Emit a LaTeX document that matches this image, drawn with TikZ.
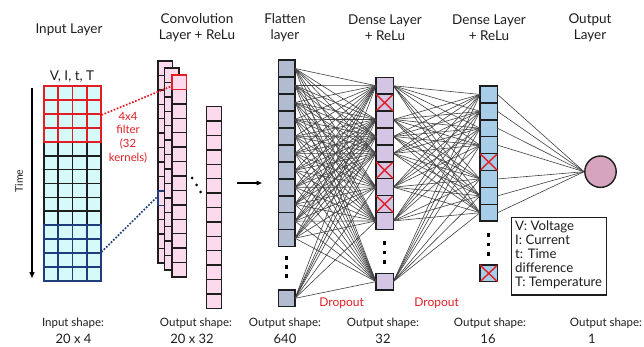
\documentclass[tikz,border=0pt]{standalone}
\usepackage{fontspec}
\setmainfont{Lato}
\usetikzlibrary{arrows.meta,calc}

\definecolor{incyan}{HTML}{D6F9FA}
\definecolor{convpink}{HTML}{FBDAEE}
\definecolor{flatblue}{HTML}{B1BCD1}
\definecolor{denselav}{HTML}{D3C5E3}
\definecolor{denseblue}{HTML}{A7CDE9}
\definecolor{outpink}{HTML}{D6A4BC}
\definecolor{kred}{HTML}{E01E24}
\definecolor{kblue}{HTML}{1F3D7A}
\definecolor{cellline}{HTML}{1E1E1E}
\definecolor{wire}{HTML}{404040}
\definecolor{txt}{HTML}{1E1E1E}

\begin{document}
\begin{tikzpicture}[x=1pt,y=-1pt,
  cell/.style={draw=cellline, line width=1.5pt, inner sep=0pt, outer sep=0pt, anchor=north west},
  incell/.style={cell, fill=incyan, line width=1.8pt, minimum width=14.25pt, minimum height=13.93pt},
  convcell/.style={cell, fill=convpink, minimum width=14.6pt, minimum height=14.43pt},
  flatcell/.style={cell, fill=flatblue, minimum width=16.7pt, minimum height=16.97pt},
  d1cell/.style={cell, fill=denselav, minimum width=17.3pt, minimum height=16.9pt},
  d2cell/.style={cell, fill=denseblue, minimum width=17.5pt, minimum height=16.9pt},
  vdot/.style={fill=black, inner sep=0pt, minimum size=3.2pt, shape=rectangle},
  cdot/.style={fill=black, inner sep=0pt, minimum size=3pt, shape=circle},
  wire/.style={draw=wire, line width=0.6pt},
  xmark/.style={draw=kred, line width=1.4pt, shorten <=0.9pt, shorten >=0.9pt},
  title/.style={text=txt, align=center, font=\fontsize{13.5}{16}\selectfont},
  shapelbl/.style={text=txt, font=\fontsize{11.5}{13}\selectfont},
  shapenum/.style={text=txt, font=\fontsize{13}{15}\selectfont},
  redlbl/.style={text=kred, align=center, font=\fontsize{11.3}{13.7}\selectfont},
  kdots/.style={line width=1.7pt, dash pattern=on 1.7pt off 1.6pt},
]
\useasboundingbox (0,0) rectangle (644,347);

% ---------- titles ----------
\node[title] (tIn)   at (69,30)  {Input Layer};
\node[title] (tConv) at (197,28) {Convolution\\Layer + ReLu};
\node[title] (tFlat) at (285,28) {Flatten\\layer};
\node[title] (tD1)   at (385,28) {Dense Layer\\+ ReLu};
\node[title] (tD2)   at (489,28) {Dense Layer\\+ ReLu};
\node[title] (tOut)  at (590,28) {Output\\Layer};
\node[title] (vars)  at (72,77)  {V, I, t, T};

% ---------- input grid (20 x 4) ----------
\foreach \r in {4,...,9}
  \foreach \c in {0,...,3}
    \node[incell] (in-\r-\c) at ({44+\c*14.25},{86+\r*13.93}) {};
\foreach \r in {0,...,3}
  \foreach \c in {0,...,3}
    \node[incell, draw=kred] (in-\r-\c) at ({44+\c*14.25},{86+\r*13.93}) {};
\foreach \r in {10,...,13}
  \foreach \c in {0,...,3}
    \node[incell, draw=kblue] (in-\r-\c) at ({44+\c*14.25},{86+\r*13.93}) {};

% time axis
\coordinate (tTop) at (32,88);
\coordinate (tBot) at (32,278);
\draw[line width=1.2pt, -{Triangle[length=6pt,width=5pt]}] (tTop) -- (tBot);
\node[text=txt, rotate=90, font=\fontsize{10.5}{12}\selectfont] (timeLbl) at (19,181) {Time};

% ---------- convolution feature maps ----------
\foreach \r in {0,...,13}
  \node[convcell] (c1-\r) at (158,{61+\r*14.43}) {};
\draw[draw=kblue, line width=1.3pt] (c1-9.north west) rectangle (c1-9.south east);
\foreach \r in {0,...,13}
  \node[convcell] (c2-\r) at (164.5,{68+\r*14.43}) {};
\foreach \r in {0,...,13}
  \node[convcell] (c3-\r) at (172,{75+\r*14.43}) {};
\draw[draw=kred, line width=1.4pt] (c3-0.north west) rectangle (c3-0.south east);

\foreach \r in {0,...,13}
  \node[convcell, minimum width=15pt] (cs-\r) at (206.7,{106.7+\r*14.4}) {};

\node[cdot] (cd1) at (192,178) {};
\node[cdot] (cd2) at (196.5,185) {};
\node[cdot] (cd3) at (200.5,192) {};

% filter correspondence
\coordinate (rA) at (101.5,115);
\coordinate (rB) at (172,86);
\coordinate (bA) at (101.5,252);
\coordinate (bB) at (158,196);
\draw[kdots, draw=kred] (rA) -- (rB);
\draw[kdots, draw=kblue] (bA) -- (bB);
\node[redlbl] (filt) at (128,137.5) {4x4\\filter\\(32\\kernels)};

% flatten arrow
\coordinate (aL) at (237,183);
\coordinate (aR) at (262,183);
\draw[line width=1.2pt, -{Triangle[length=5.5pt,width=4.5pt]}] (aL) -- (aR);

% ---------- flatten layer ----------
\foreach \r in {0,...,10}
  \node[flatcell] (f-\r) at (278.3,{60+\r*16.97}) {};
\node[flatcell, minimum height=16.7pt] (f-L) at (278.3,290) {};
\foreach \y [count=\i] in {258,267,276}
  \node[vdot] (fd\i) at (286.6,\y) {};

% ---------- dense layer 1 ----------
\foreach \r in {0,...,8}
  \node[d1cell] (d-\r) at (376,{77.3+\r*16.9}) {};
\node[d1cell, minimum height=16.7pt] (d-L) at (376,273.3) {};
\foreach \y [count=\i] in {243,252.5,262}
  \node[vdot] (dd\i) at (384.6,\y) {};

% ---------- dense layer 2 ----------
\foreach \r in {0,...,7}
  \node[d2cell] (e-\r) at (480,{86+\r*16.9}) {};
\node[d2cell, minimum height=16.7pt] (e-L) at (480,265) {};
\foreach \y [count=\i] in {235,244.5,254}
  \node[vdot] (ed\i) at (488.7,\y) {};

% ---------- output neuron ----------
\node[circle, draw=cellline, line width=1.4pt, fill=outpink, minimum size=31.4pt, inner sep=0pt] (out) at (600.5,171.7) {};

% ---------- connections ----------
\foreach \a in {0,...,10,L}
  \foreach \b in {0,2,3,4,6,8,L}
    \draw[wire] (f-\a.east) -- (d-\b.west);
\foreach \a in {0,2,3,4,6,8,L}
  \foreach \b in {0,1,2,3,5,6,7}
    \draw[wire] (d-\a.east) -- (e-\b.west);
\foreach \a in {0,1,2,3,5,6,7}
  \draw[wire] (e-\a.east) -- (out.west);

% dropped units
\foreach \n in {d-1,d-5,d-7,e-4,e-L}
  \draw[xmark] (\n.north west) -- (\n.south east) (\n.north east) -- (\n.south west);

\node[redlbl, font=\fontsize{12}{14}\selectfont] (drop1) at (341.7,303) {Dropout};
\node[redlbl, font=\fontsize{12}{14}\selectfont] (drop2) at (436.7,303) {Dropout};

% ---------- legend ----------
\node[draw=cellline, line width=1.3pt, anchor=north west, inner sep=0pt, outer sep=0pt,
      minimum width=95pt, minimum height=77.7pt] (legbox) at (511.7,217.3) {};
\node[anchor=north west, align=left, text=txt, inner sep=0pt,
      font=\fontsize{13.2}{13.8}\selectfont] (legtxt) at (515,221)
  {V: Voltage\\I: Current\\t: Time\\difference\\T: Temperature};

% ---------- shapes ----------
\node[shapelbl] (s1a) at (73,323) {Input shape:};
\node[shapenum] (s1b) at (73.5,339) {20 x 4};
\node[shapelbl] (s2a) at (196,323) {Output shape:};
\node[shapenum] (s2b) at (192,339) {20 x 32};
\node[shapelbl] (s3a) at (285,323) {Output shape:};
\node[shapenum] (s3b) at (285,339) {640};
\node[shapelbl] (s4a) at (383,323) {Output shape:};
\node[shapenum] (s4b) at (383,339) {32};
\node[shapelbl] (s5a) at (490,323) {Output shape:};
\node[shapenum] (s5b) at (488,339) {16};
\node[shapelbl] (s6a) at (606,323) {Output shape:};
\node[shapenum] (s6b) at (592,339) {1};
\end{tikzpicture}
\end{document}
